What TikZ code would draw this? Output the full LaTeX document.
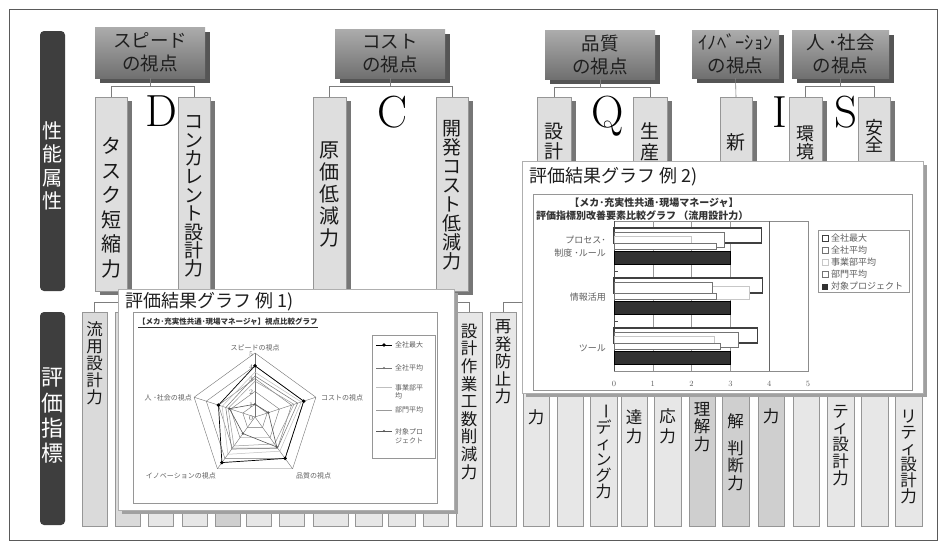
\documentclass[tikz,border=0pt]{standalone}
\usepackage{fontspec}
\newfontfamily\jp{Noto Sans CJK JP}
\usetikzlibrary{shadows,calc}
\definecolor{framecol}{RGB}{90,90,90}
\definecolor{hdrtop}{RGB}{172,172,172}
\definecolor{hdrbot}{RGB}{112,112,112}
\definecolor{hdrshadow}{RGB}{85,85,85}
\definecolor{upfill}{RGB}{222,222,222}
\definecolor{upline}{RGB}{150,150,150}
\definecolor{upshadow}{RGB}{118,118,118}
\definecolor{darkbar}{RGB}{62,62,62}
\definecolor{lowlight}{RGB}{231,231,231}
\definecolor{lowmid}{RGB}{218,218,218}
\definecolor{lowdark}{RGB}{207,207,207}
\definecolor{lowline}{RGB}{150,150,150}
\definecolor{conn}{RGB}{125,125,125}
\definecolor{panelline}{RGB}{175,175,175}
\definecolor{panelshadow}{RGB}{160,160,160}
\definecolor{chartline}{RGB}{150,150,150}
\definecolor{txtgray}{RGB}{95,95,95}
\definecolor{bardark}{RGB}{50,50,50}
\newcommand{\rbox}[7]{\node[#1, minimum width={(#4-#2)*1pt}, minimum height={(#5-#3)*1pt}] (#6) at ({(#2+#4)/2},{(#3+#5)/2}) {#7};}
\tikzset{
  hdr/.style={draw=none, top color=hdrtop, bottom color=hdrbot,
     drop shadow={shadow xshift=5pt, shadow yshift=-5pt, fill=hdrshadow, opacity=1},
     align=center, font={\jp\fontsize{18.5}{23}\selectfont}, text=black!88, inner sep=0pt, outer sep=0pt},
  upbox/.style={draw=upline, fill=upfill, line width=0.6pt,
     drop shadow={shadow xshift=5pt, shadow yshift=-4pt, fill=upshadow, opacity=1}, inner sep=0pt, outer sep=0pt},
  lowbox/.style={draw=lowline, fill=#1, line width=0.6pt, inner sep=0pt, outer sep=0pt},
  darkbarst/.style={fill=darkbar, rounded corners=4pt, inner sep=0pt, outer sep=0pt},
  bartxt/.style={text=white, align=center, inner sep=0pt, anchor=north},
  vt/.style={align=center, inner sep=0pt, anchor=north, text=black!90},
  connline/.style={draw=conn, line width=0.6pt},
  bigletter/.style={font=\fontsize{45}{45}\selectfont, inner sep=0pt, anchor=base},
  panel/.style={draw=panelline, fill=white, line width=0.6pt,
     drop shadow={shadow xshift=4pt, shadow yshift=-4pt, fill=panelshadow, opacity=1}, inner sep=0pt, outer sep=0pt},
  chartbox/.style={draw=chartline, fill=white, line width=0.6pt, inner sep=0pt, outer sep=0pt},
  gtitle/.style={font={\jp\fontsize{18}{20}\selectfont}, inner sep=0pt, anchor=west, text=black!88},
  axlab/.style={font={\jp\fontsize{7}{8}\selectfont}, inner sep=0pt, text=txtgray},
  ticklab/.style={font=\fontsize{7}{8}\selectfont, inner sep=0pt, text=txtgray},
  leglab/.style={font={\jp\fontsize{7}{8.5}\selectfont}, inner sep=0pt, anchor=west, text=txtgray, align=left},
  leg2lab/.style={font={\jp\fontsize{9}{10}\selectfont}, inner sep=0pt, anchor=west, text=txtgray},
  catlab/.style={font={\jp\fontsize{9}{12.5}\selectfont}, inner sep=0pt, anchor=east, text=txtgray, align=right},
  rgrid/.style={draw=black!55, line width=0.4pt},
  s1/.style={draw=black, line width=0.7pt},
  s2/.style={draw=black!55, line width=0.5pt},
  s3/.style={draw=black!25, line width=0.5pt},
  s4/.style={draw=black!40, line width=0.5pt},
  s5/.style={draw=black!65, line width=0.6pt},
  b1/.style={draw=black!75, line width=1.3pt, fill=white},
  b2/.style={draw=black!55, line width=1pt, fill=white},
  b3/.style={draw=black!22, line width=1pt, fill=white},
  b4/.style={draw=black!55, line width=0.8pt, fill=white},
  b5/.style={fill=bardark},
}
\newcommand{\radarpoly}[6]{\draw[#1] (90:{#2*12.8}) -- (18:{#3*12.8}) -- (-54:{#4*12.8}) -- (-126:{#5*12.8}) -- (162:{#6*12.8}) -- cycle;}
\newcommand{\hbarr}[4]{\draw[#1] (614,#2) rectangle ({614+38.8*#4},#3);}
\begin{document}
\begin{tikzpicture}[x=1pt,y=-1pt]
\useasboundingbox (0,0) rectangle (945,549);
\fill[white] (0,0) rectangle (945,549);
\draw[framecol, line width=0.9pt] (9,9) rectangle (937,540);

% left dark bars
\rbox{darkbarst}{40}{31}{65}{291}{barA}{}
\rbox{darkbarst}{40}{312}{65}{525}{barB}{}
\node[bartxt, font={\jp\fontsize{20}{23.5}\selectfont}] (barAt) at (52.5,121) {性\\能\\属\\性};
\node[bartxt, font={\jp\fontsize{22}{25.3}\selectfont}] (barBt) at (52.5,368) {評\\価\\指\\標};

% header boxes
\rbox{hdr}{95}{27}{205}{78}{hS}{スピード\\の視点}
\rbox{hdr}{335}{29}{445}{78}{hC}{コスト\\の視点}
\rbox{hdr}{545}{30}{655}{79}{hQ}{品質\\の視点}
\rbox{hdr}{692}{30}{779}{78}{hI}{ｲﾉﾍﾞｰｼｮﾝ\\の視点}
\rbox{hdr}{792}{30}{889}{78}{hP}{人 ･社会\\の視点}

% upper child boxes
\rbox{upbox}{95}{97}{127}{291}{u1}{}
\rbox{upbox}{178}{97}{210}{291}{u2}{}
\rbox{upbox}{313}{97}{346}{291}{u3}{}
\rbox{upbox}{436}{97}{468}{291}{u4}{}
\rbox{upbox}{537}{97}{571}{291}{u5}{}
\rbox{upbox}{633}{97}{667}{291}{u6}{}
\rbox{upbox}{720}{97}{752}{291}{u7}{}
\rbox{upbox}{789}{97}{822}{291}{u8}{}
\rbox{upbox}{858}{97}{890}{291}{u9}{}

% header connectors
\draw[connline] (hS.south) -- ++(0,8) -| (u1.north);
\draw[connline] (hS.south) -- ++(0,8) -| (u2.north);
\draw[connline] (hC.south) -- ++(0,8) -| (u3.north);
\draw[connline] (hC.south) -- ++(0,8) -| (u4.north);
\draw[connline] (hQ.south) -- ++(0,8) -| (u5.north);
\draw[connline] (hQ.south) -- ++(0,8) -| (u6.north);
\draw[connline] (hI.south) -- (u7.north);
\draw[connline] (hP.south) -- ++(0,8) -| (u8.north);
\draw[connline] (hP.south) -- ++(0,8) -| (u9.north);

% upper texts
\node[vt, font={\jp\fontsize{20}{24.6}\selectfont}] (t1) at (111,137) {タ\\ス\\ク\\短\\縮\\力};
\node[vt, font={\jp\fontsize{19}{18.4}\selectfont}] (t2) at (194,115.5) {コ\\ン\\カ\\レ\\ン\\ト\\設\\計\\力};
\node[vt, font={\jp\fontsize{20}{22}\selectfont}] (t3) at (329.5,142) {原\\価\\低\\減\\力};
\node[vt, font={\jp\fontsize{19}{18.9}\selectfont}] (t4) at (452,120.5) {開\\発\\コ\\ス\\ト\\低\\減\\力};
\node[vt, font={\jp\fontsize{19}{20}\selectfont}] (t5) at (554,122.5) {設\\計};
\node[vt, font={\jp\fontsize{19}{20.5}\selectfont}] (t6) at (650,122.5) {生\\産};
\node[vt, font={\jp\fontsize{19}{20}\selectfont}] (t7) at (736,133.5) {新};
\node[vt, font={\jp\fontsize{18}{17.5}\selectfont}] (t8) at (805.5,126) {環\\境};
\node[vt, font={\jp\fontsize{18}{17}\selectfont}] (t9) at (874,119) {安\\全};

% big letters
\node[bigletter] (lD) at (161,126) {D};
\node[bigletter] (lC) at (393,127) {C};
\node[bigletter] (lQ) at (608,127) {Q};
\node[bigletter] (lI) at (780,127) {I};
\node[bigletter] (lS) at (846,127) {S};

% bottom row boxes
\rbox{lowbox=lowmid}{82}{312}{107}{526}{b1}{}
\rbox{lowbox=lowmid}{115}{312}{140}{526}{b2}{}
\rbox{lowbox=lowlight}{148}{312}{173}{526}{b3}{}
\rbox{lowbox=lowlight}{182}{312}{207}{526}{b4}{}
\rbox{lowbox=lowdark}{215}{312}{240}{526}{b5}{}
\rbox{lowbox=lowlight}{246}{312}{271}{526}{b6}{}
\rbox{lowbox=lowlight}{279}{312}{304}{526}{b7}{}
\rbox{lowbox=lowlight}{313}{312}{348}{526}{b8}{}
\rbox{lowbox=lowlight}{355}{312}{382}{526}{b9}{}
\rbox{lowbox=lowlight}{388}{312}{415}{526}{b10}{}
\rbox{lowbox=lowlight}{423}{312}{448}{526}{b11}{}
\rbox{lowbox=lowlight}{456}{312}{482}{526}{b12}{}
\rbox{lowbox=lowlight}{490}{312}{516}{526}{b13}{}
\rbox{lowbox=lowlight}{523}{312}{549}{526}{b14}{}
\rbox{lowbox=lowlight}{557}{312}{583}{526}{b15}{}
\rbox{lowbox=lowlight}{590}{312}{617}{526}{b16}{}
\rbox{lowbox=lowlight}{621}{312}{647}{526}{b17}{}
\rbox{lowbox=lowlight}{654}{312}{681}{526}{b18}{}
\rbox{lowbox=lowdark}{689}{312}{715}{526}{b19}{}
\rbox{lowbox=lowdark}{722}{312}{749}{526}{b20}{}
\rbox{lowbox=lowdark}{758}{312}{784}{526}{b21}{}
\rbox{lowbox=lowlight}{793}{312}{819}{526}{b22}{}
\rbox{lowbox=lowlight}{827}{312}{854}{526}{b23}{}
\rbox{lowbox=lowlight}{861}{312}{888}{526}{b24}{}
\rbox{lowbox=lowlight}{895}{312}{922}{526}{b25}{}

% tree connectors to bottom row
\coordinate (tl) at (0,302);
\draw[connline] (b1.north) -- (b1.north |- tl) -- (b12.north |- tl) -- (b12.north);
\draw[connline] (b13.north) -- (b13.north |- tl) -- (b25.north |- tl) -- (b25.north);

% bottom texts
\node[vt, font={\jp\fontsize{16.5}{17}\selectfont}] (w1) at (94.5,321.7) {流\\用\\設\\計\\力};
\node[vt, font={\jp\fontsize{16.5}{17.6}\selectfont}] (w12) at (469,323.7) {設\\計\\作\\業\\工\\数\\削\\減\\力};
\node[vt, font={\jp\fontsize{16.5}{17.5}\selectfont}] (w13) at (503,319.7) {再\\発\\防\\止\\力};
\node[vt, font={\jp\fontsize{16.5}{17}\selectfont}] (w14) at (536,409.7) {力};
\node[vt, font={\jp\fontsize{16}{15.8}\selectfont}] (w16) at (603.5,403) {\rotatebox[origin=c]{-90}{ー}\\デ\\ィ\\ン\\グ\\力};
\node[vt, font={\jp\fontsize{16.5}{19}\selectfont}] (w17) at (634,409.7) {達\\力};
\node[vt, font={\jp\fontsize{16.5}{20}\selectfont}] (w18) at (667.5,408.7) {応\\力};
\node[vt, font={\jp\fontsize{16.5}{17.5}\selectfont}] (w19) at (702,401.7) {理\\解\\力};
\node[vt, font={\jp\fontsize{16.5}{17.5}\selectfont}] (w20) at (735.5,413.7) {解\\[9pt]判\\断\\力};
\node[vt, font={\jp\fontsize{16.5}{17}\selectfont}] (w21) at (771,408.7) {力};
\node[vt, font={\jp\fontsize{16.5}{16.8}\selectfont}] (w23) at (840.5,404.7) {テ\\ィ\\設\\計\\力};
\node[vt, font={\jp\fontsize{16.5}{16}\selectfont}] (w25) at (908.5,409.7) {リ\\テ\\ィ\\設\\計\\力};

% ===== graph 1 (radar) =====
\rbox{panel}{118}{289}{454}{510}{g1}{}
\node[gtitle] (g1t) at (125,302) {評価結果グラフ 例 1)};
\rbox{chartbox}{133}{312}{437}{503}{g1c}{}
\node[font={\jp\bfseries\fontsize{7.5}{9}\selectfont}, inner sep=0pt, anchor=west, text=black!80] (g1s) at (138,323) {\underline{【メカ･充実性共通･現場マネージャ】視点比較グラフ}};
\begin{scope}[shift={(255,417)}, y=1pt]
  \foreach \r in {1,...,5} {\radarpoly{rgrid}{\r}{\r}{\r}{\r}{\r}}
  \foreach \a in {90,18,-54,-126,162} {\draw[rgrid] (0,0) -- (\a:64);}
  \radarpoly{s3}{3.5}{3.8}{3.3}{3.6}{2.7}
  \radarpoly{s2}{3.2}{3.5}{3.0}{3.1}{2.4}
  \radarpoly{s4}{2.8}{3.2}{2.6}{2.8}{2.2}
  \radarpoly{s5}{1.0}{1.1}{2.9}{1.6}{2.1}
  \radarpoly{s1}{4}{4}{4}{4.4}{3}
  \foreach \a/\v in {90/4,18/4,-54/4,-126/4.4,162/3}
    {\fill[black] (\a:{\v*12.8}) +(0,1.9) -- +(1.9,0) -- +(0,-1.9) -- +(-1.9,0) -- cycle;}
  \foreach \a/\v in {90/1.0,18/1.1,-54/2.9,-126/1.6,162/2.1}
    {\fill[black!65] (\a:{\v*12.8}) circle (1.3pt);}
  \foreach \r in {0,...,5} {\node[ticklab] (tk\r) at (-4,{12.8*\r-1}) {\r};}
\end{scope}
\node[axlab, anchor=south] (ax1) at (255,351) {スピードの視点};
\node[axlab, anchor=west] (ax2) at (321,398) {コストの視点};
\node[axlab, anchor=west] (ax3) at (296,476) {品質の視点};
\node[axlab, anchor=east] (ax4) at (216,476) {イノベーションの視点};
\node[axlab, anchor=east] (ax5) at (192,398) {人 ･社会の視点};
% legend 1
\rbox{chartbox}{372}{335}{435}{458}{g1l}{}
\draw[s1] (376,345) -- (392,345);
\fill[black] (384,343.2) -- (385.8,345) -- (384,346.8) -- (382.2,345) -- cycle;
\node[leglab] (lg1) at (395,345) {全社最大};
\draw[s2] (376,368) -- (392,368);
\fill[black!55] (384,368) circle (1.2pt);
\node[leglab] (lg2) at (395,368) {全社平均};
\draw[s3] (376,387) -- (392,387);
\node[leglab] (lg3) at (395,392) {事業部平\\均};
\draw[s4] (376,410) -- (392,410);
\node[leglab] (lg4) at (395,410) {部門平均};
\draw[s5] (376,431) -- (392,431);
\fill[black!65] (384,431) circle (1.2pt);
\node[leglab] (lg5) at (395,436) {対象プロ\\ジェクト};

% ===== graph 2 (bars) =====
\rbox{panel}{522}{161}{923}{393}{g2}{}
\node[gtitle] (g2t) at (529,177) {評価結果グラフ 例 2)};
\rbox{chartbox}{533}{194}{912}{390}{g2c}{}
\node[font={\jp\bfseries\fontsize{10}{11}\selectfont}, inner sep=0pt, text=black!80] (g2s1) at (654,203) {【メカ･充実性共通･現場マネージャ】};
\node[font={\jp\bfseries\fontsize{10}{11}\selectfont}, inner sep=0pt, anchor=west, text=black!80] (g2s2) at (536,215.5) {評価指標別改善要素比較グラフ （流用設計力）};
\draw[draw=black!45, line width=0.5pt] (614,221) rectangle (808,371);
\foreach \k in {1,2,3} {\draw[draw=black!40, line width=0.5pt] ({614+38.8*\k},221) -- ({614+38.8*\k},371);}
\draw[draw=black!60, line width=0.7pt] ({614+38.8*4},221) -- ({614+38.8*4},371);
\draw[draw=black!70, line width=0.7pt] (614,221) -- (614,371);
\foreach \yy in {271,321} {\draw[draw=black!70, line width=0.6pt] (614,\yy) -- (618,\yy);}
% bars: category 1
\hbarr{b1}{228}{243}{3.8}
\hbarr{b2}{232}{247}{2.85}
\hbarr{b3}{236}{248}{2.0}
\hbarr{b4}{243}{249}{2.65}
\hbarr{b5}{251}{264}{3.0}
% category 2
\hbarr{b1}{278}{293}{3.82}
\hbarr{b3}{286}{299}{3.5}
\hbarr{b2}{282}{297}{2.53}
\hbarr{b4}{293}{299}{2.63}
\hbarr{b5}{301}{314}{3.0}
% category 3
\hbarr{b1}{328}{343}{3.7}
\hbarr{b2}{332}{347}{3.2}
\hbarr{b3}{336}{349}{2.6}
\hbarr{b4}{343}{349}{2.75}
\hbarr{b5}{351}{364}{3.0}
\node[catlab] (c1) at (606,246.5) {プロセス･\\制度 ･ルール};
\node[catlab] (c2) at (606,297) {情報活用};
\node[catlab] (c3) at (606,348) {ツール};
\foreach \k in {0,...,5} {\node[ticklab, font=\fontsize{8}{9}\selectfont] (xt\k) at ({614+38.8*\k},384) {\k};}
% legend 2
\rbox{chartbox}{818}{230}{909}{292}{g2l}{}
\draw[draw=black!75, line width=1pt, fill=white] (822,235.5) rectangle (828,241.5);
\node[leg2lab] (m1) at (831,238.5) {全社最大};
\draw[draw=black!55, line width=0.8pt, fill=white] (822,247.5) rectangle (828,253.5);
\node[leg2lab] (m2) at (831,250.5) {全社平均};
\draw[draw=black!22, line width=0.8pt, fill=white] (822,259.5) rectangle (828,265.5);
\node[leg2lab] (m3) at (831,262.5) {事業部平均};
\draw[draw=black!55, line width=0.7pt, fill=white] (822,271.5) rectangle (828,277.5);
\node[leg2lab] (m4) at (831,274.5) {部門平均};
\fill[bardark] (822,283.5) rectangle (828,289.5);
\node[leg2lab] (m5) at (831,286.5) {対象プロジェクト};
\end{tikzpicture}
\end{document}
